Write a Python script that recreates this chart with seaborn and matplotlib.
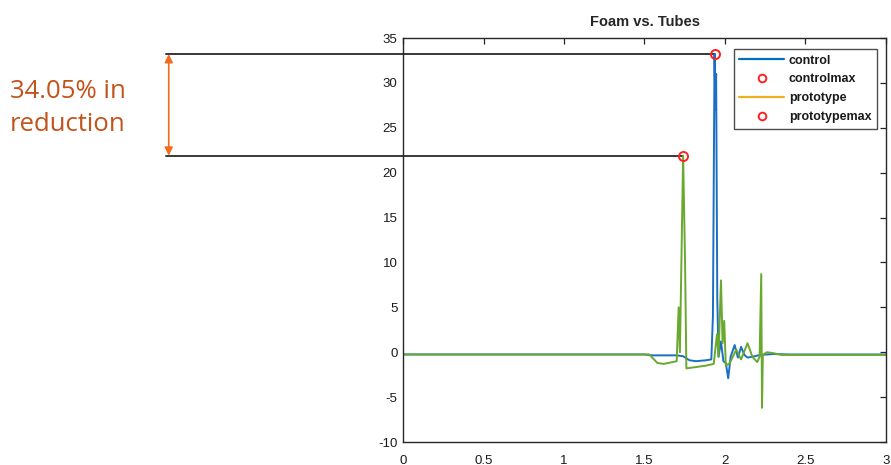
import matplotlib
matplotlib.use('Agg')
import matplotlib.pyplot as plt
from matplotlib.lines import Line2D
import seaborn as sns
import pandas as pd
import numpy as np

sns.set_style('white')
plt.rcParams['font.family'] = ['Liberation Sans', 'DejaVu Sans']
plt.rcParams['axes.unicode_minus'] = False

# control series (time, value)
control_t = [0.0, 1.50, 1.55, 1.62, 1.70, 1.74, 1.78, 1.82, 1.88, 1.915, 1.925, 1.935,
             1.94, 1.945, 1.952, 1.96, 1.975, 1.99, 2.005, 2.02, 2.035, 2.06, 2.08, 2.10,
             2.12, 2.14, 2.17, 2.22, 2.30, 2.40, 3.0]
control_v = [-0.25, -0.25, -0.35, -0.35, -0.35, -0.45, -0.9, -1.0, -0.9, -0.8, 4.0, 33.2,
             27.0, 31.0, 6.0, -0.5, 1.2, -1.0, -1.2, -2.9, -0.5, 0.8, -0.6, 0.6,
             -0.3, -0.6, -0.5, -0.3, -0.2, -0.25, -0.25]

# prototype series (time, value)
proto_t = [0.0, 1.53, 1.58, 1.62, 1.70, 1.712, 1.72, 1.74, 1.752, 1.76, 1.80, 1.88,
           1.93, 1.95, 1.96, 1.975, 1.985, 1.995, 2.005, 2.03, 2.07, 2.10, 2.14, 2.17,
           2.20, 2.215, 2.225, 2.23, 2.235, 2.26, 2.30, 2.35, 2.50, 3.0]
proto_v = [-0.25, -0.25, -1.2, -1.3, -1.0, 5.0, 0.0, 21.9, 10.0, -1.8, -1.7, -1.5,
           -1.3, 2.0, -0.5, 8.0, 1.0, 3.5, -1.5, -1.2, 0.3, -0.8, 1.0, -0.5,
           -1.1, -0.5, 8.7, -6.2, -0.3, 0.0, -0.1, -0.3, -0.3, -0.3]

control_max = (1.935, 33.2)
proto_max = (1.74, 21.9)
reduction_label = '34.05% in\nreduction'

df_c = pd.DataFrame({'t': control_t, 'v': control_v})
df_p = pd.DataFrame({'t': proto_t, 'v': proto_v})

fig = plt.figure(figsize=(8.91, 4.65), dpi=100)
ax = fig.add_axes([403 / 891, 23 / 465, 483 / 891, 404 / 465])

blue = '#1a6fc4'
green = '#6aa82e'
sns.lineplot(data=df_c, x='t', y='v', ax=ax, color=blue, lw=1.4, sort=False, estimator=None)
sns.lineplot(data=df_p, x='t', y='v', ax=ax, color=green, lw=1.4, sort=False, estimator=None)
ax.plot(*control_max, 'o', mfc='none', mec='#ff2020', ms=6.5, mew=1.4)
ax.plot(*proto_max, 'o', mfc='none', mec='#ff2020', ms=6.5, mew=1.4)

ax.set_xlim(0, 3)
ax.set_ylim(-10, 35)
ax.set_xticks(np.arange(0, 3.01, 0.5))
ax.set_xticklabels(['0', '0.5', '1', '1.5', '2', '2.5', '3'])
ax.set_yticks(np.arange(-10, 36, 5))
ax.set_xlabel('')
ax.set_ylabel('')
ax.tick_params(direction='in', length=4, width=0.9, top=True, right=True,
               labelsize=9.5, labelcolor='#1a1a1a', pad=4)
ax.tick_params(axis='x', pad=9)
for s in ax.spines.values():
    s.set_color('#262626')
    s.set_linewidth(1.0)
ax.set_title('Foam vs. Tubes', fontsize=10.5, fontweight='bold', pad=9)

handles = [Line2D([], [], color='#0072bd', lw=1.6),
           Line2D([], [], ls='none', marker='o', mfc='none', mec='#ff2020', ms=5.5, mew=1.4),
           Line2D([], [], color='#edb120', lw=1.6),
           Line2D([], [], ls='none', marker='o', mfc='none', mec='#ff2020', ms=5.5, mew=1.4)]
leg = ax.legend(handles, ['control', 'controlmax', 'prototype', 'prototypemax'],
                loc='upper right', bbox_to_anchor=(877 / 891, 1 - 49 / 465),
                bbox_transform=fig.transFigure, borderaxespad=0,
                prop={'size': 9, 'weight': 'bold'}, frameon=True, fancybox=False,
                handlelength=3.6, handletextpad=0.35, labelspacing=0.55, borderpad=0.45)
leg.get_frame().set_edgecolor('#222222')
leg.get_frame().set_linewidth(1.0)
for t in leg.get_texts():
    t.set_color('#1a1a1a')

# leader lines out to the left annotation
x_left = -1.47
ax.plot([x_left, control_max[0]], [control_max[1]] * 2, color='#383838', lw=1.4, clip_on=False, zorder=1)
ax.plot([x_left, proto_max[0]], [proto_max[1]] * 2, color='#383838', lw=1.4, clip_on=False, zorder=1)
ax.annotate('', xy=(-1.455, control_max[1]), xytext=(-1.455, proto_max[1]),
            arrowprops=dict(arrowstyle='<|-|>', color='#f26b1d', lw=1.2,
                            mutation_scale=12, shrinkA=0, shrinkB=0),
            annotation_clip=False)
fig.text(0.011, 1 - 108 / 465, reduction_label, color='#c2531a', fontsize=18.5,
         family=['Open Sans', 'DejaVu Sans'], va='center', ha='left', linespacing=1.45)

fig.savefig('out.png', dpi=100)
